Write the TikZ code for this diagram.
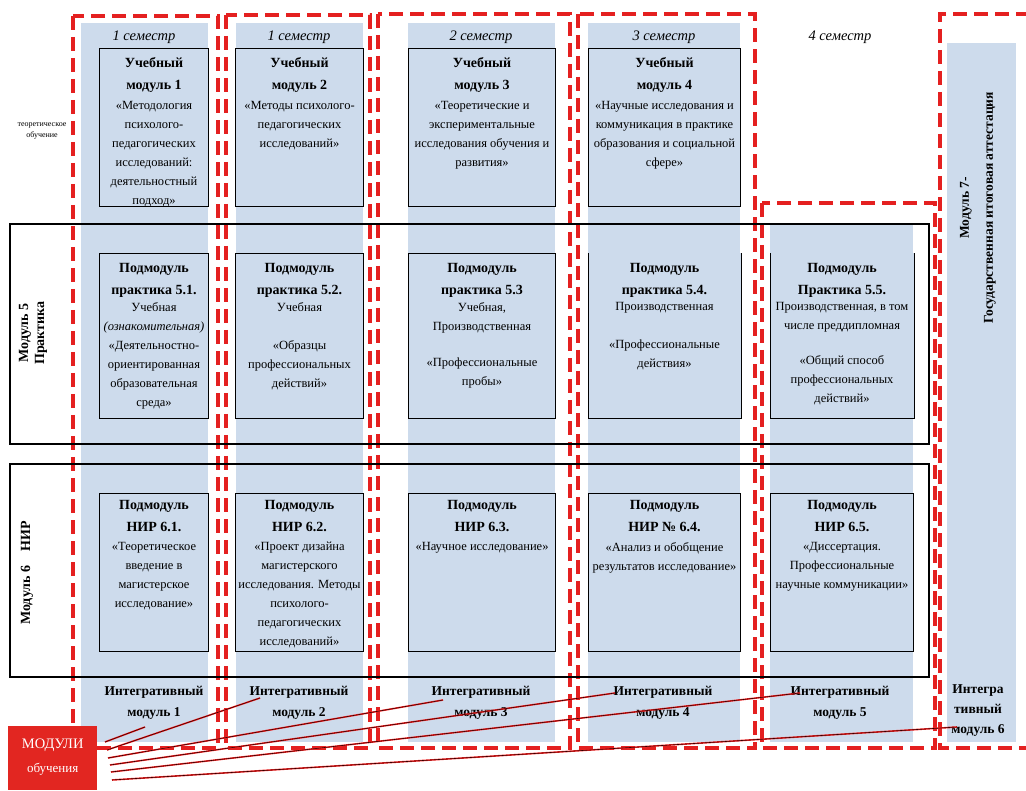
\documentclass[tikz,border=0pt]{standalone}
\usepackage{fontspec}
\setmainfont{Liberation Serif}
\usepackage{tikz}

\definecolor{bluebg}{RGB}{205,219,236}
\definecolor{dashred}{RGB}{228,32,32}
\definecolor{boxred}{RGB}{226,38,33}

\begin{document}
\begin{tikzpicture}[x=1pt, y=-1pt,
    semframe/.style={draw=dashred, line width=3.5pt, dash pattern=on 14pt off 7pt},
    band/.style={draw=black, line width=2.8pt},
    modbox/.style={draw=black, line width=1pt, fill=bluebg, anchor=north west, inner sep=0pt},
    head/.style={font=\fontsize{14}{22}\selectfont\bfseries, align=center, inner sep=0pt, anchor=north},
    body/.style={font=\fontsize{12.5}{19}\selectfont, align=center, inner sep=0pt, anchor=north},
    sem/.style={font=\fontsize{14.5}{16}\selectfont\itshape},
    integ/.style={font=\fontsize{13.5}{21}\selectfont\bfseries, align=center},
    vlabel/.style={font=\fontsize{14}{16}\selectfont\bfseries, align=center, rotate=90},
    fan/.style={draw=black!80!red, line width=0.6pt, preaction={draw=red!85, line width=1.6pt}}]

    \useasboundingbox (0,0) rectangle (1026,791);

    \fill[bluebg] (81,23) rectangle (208,742);
    \fill[bluebg] (236,23) rectangle (363,742);
    \fill[bluebg] (408,23) rectangle (555,742);
    \fill[bluebg] (588,23) rectangle (740,742);
    \fill[bluebg] (770,224) rectangle (913,742);
    \fill[bluebg] (947,43) rectangle (1016,742);

    \draw[semframe] (73,16) rectangle (218,748);
    \draw[semframe] (226,15) rectangle (370,748);
    \draw[semframe] (378,14) rectangle (570,748);
    \draw[semframe] (578,14) rectangle (755,748);
    \draw[semframe] (762,203) rectangle (935,748);
    \draw[semframe] (1030,14) -- (940,14) -- (940,748) -- (1030,748);

    \draw[band] (10,224) rectangle (929,444);
    \draw[band] (10,464) rectangle (929,677);

    \node[sem] (s1) at (144,37) {1 семестр};
    \node[sem] (s2) at (299,37) {1 семестр};
    \node[sem] (s3) at (481,37) {2 семестр};
    \node[sem] (s4) at (664,37) {3 семестр};
    \node[sem] (s5) at (840,37) {4 семестр};

    \node[font=\fontsize{8}{11}\selectfont, align=center] (theory) at (42,131) {теоретическое\\обучение};
    \node[vlabel] (prac) at (33,333) {Модуль 5\\Практика};
    \node[vlabel] (nir) at (27,573) {Модуль 6\quad НИР};

    \node[modbox, minimum width=109, minimum height=158] (u1) at (99,48) {};
    \node[head] (u1h) at ([yshift=-9]u1.north) {Учебный\\модуль 1};
    \node[body] (u1b) at ([yshift=-53]u1.north) {«Методология\\психолого-\\педагогических\\исследований:\\деятельностный\\подход»};

    \node[modbox, minimum width=128, minimum height=158] (u2) at (235,48) {};
    \node[head] (u2h) at ([yshift=-9]u2.north) {Учебный\\модуль 2};
    \node[body] (u2b) at ([yshift=-53]u2.north) {«Методы психолого-\\педагогических\\исследований»};

    \node[modbox, minimum width=147, minimum height=158] (u3) at (408,48) {};
    \node[head] (u3h) at ([yshift=-9]u3.north) {Учебный\\модуль 3};
    \node[body] (u3b) at ([yshift=-53]u3.north) {«Теоретические и\\экспериментальные\\исследования обучения и\\развития»};

    \node[modbox, minimum width=152, minimum height=158] (u4) at (588,48) {};
    \node[head] (u4h) at ([yshift=-9]u4.north) {Учебный\\модуль 4};
    \node[body] (u4b) at ([yshift=-53]u4.north) {«Научные исследования и\\коммуникация в практике\\образования и социальной\\сфере»};

    \node[modbox, minimum width=109, minimum height=165] (p1) at (99,253) {};
    \node[head] (p1h) at ([yshift=-10]p1.north) {Подмодуль\\практика 5.1.};
    \node[body] (p1b) at ([yshift=-49]p1.north) {Учебная\\\textit{(ознакомительная)}\\«Деятельностно-\\ориентированная\\образовательная\\среда»};

    \node[modbox, minimum width=128, minimum height=165] (p2) at (235,253) {};
    \node[head] (p2h) at ([yshift=-10]p2.north) {Подмодуль\\практика 5.2.};
    \node[body] (p2b) at ([yshift=-49]p2.north) {Учебная\\[19pt]«Образцы\\профессиональных\\действий»};

    \node[modbox, minimum width=147, minimum height=165] (p3) at (408,253) {};
    \node[head] (p3h) at ([yshift=-10]p3.north) {Подмодуль\\практика 5.3};
    \node[body] (p3b) at ([yshift=-49]p3.north) {Учебная,\\Производственная\\[17pt]«Профессиональные\\пробы»};

    \node[modbox, draw=none, minimum width=152, minimum height=165] (p4) at (588,253) {};
    \draw[line width=1pt] (p4.north west) -- (p4.south west) -- (p4.south east) -- (p4.north east);
    \node[head] (p4h) at ([yshift=-10]p4.north) {Подмодуль\\практика 5.4.};
    \node[body] (p4b) at ([yshift=-49]p4.north) {Производственная\\[19pt]«Профессиональные\\действия»};

    \node[modbox, draw=none, minimum width=143, minimum height=165] (p5) at (770,253) {};
    \draw[line width=1pt] (p5.north west) -- (p5.south west) -- (p5.south east) -- (p5.north east);
    \node[head] (p5h) at ([yshift=-10]p5.north) {Подмодуль\\Практика 5.5.};
    \node[body] (p5b) at ([yshift=-49]p5.north) {Производственная, в том\\числе преддипломная\\[16pt]«Общий способ\\профессиональных\\действий»};

    \node[modbox, minimum width=109, minimum height=158] (n1) at (99,493) {};
    \node[head] (n1h) at ([yshift=-7]n1.north) {Подмодуль\\НИР 6.1.};
    \node[body] (n1b) at ([yshift=-49]n1.north) {«Теоретическое\\введение в\\магистерское\\исследование»};

    \node[modbox, minimum width=128, minimum height=158] (n2) at (235,493) {};
    \node[head] (n2h) at ([yshift=-7]n2.north) {Подмодуль\\НИР 6.2.};
    \node[body] (n2b) at ([yshift=-49]n2.north) {«Проект дизайна\\магистерского\\исследования. Методы\\психолого-\\педагогических\\исследований»};

    \node[modbox, minimum width=147, minimum height=158] (n3) at (408,493) {};
    \node[head] (n3h) at ([yshift=-7]n3.north) {Подмодуль\\НИР 6.3.};
    \node[body] (n3b) at ([yshift=-49]n3.north) {«Научное исследование»};

    \node[modbox, minimum width=152, minimum height=158] (n4) at (588,493) {};
    \node[head] (n4h) at ([yshift=-7]n4.north) {Подмодуль\\НИР № 6.4.};
    \node[body] (n4b) at ([yshift=-49]n4.north) {«Анализ и обобщение\\результатов исследование»};

    \node[modbox, minimum width=143, minimum height=158] (n5) at (770,493) {};
    \node[head] (n5h) at ([yshift=-7]n5.north) {Подмодуль\\НИР 6.5.};
    \node[body] (n5b) at ([yshift=-49]n5.north) {«Диссертация.\\Профессиональные\\научные коммуникации»};

    \node[font=\fontsize{13.5}{24}\selectfont\bfseries, align=center, rotate=90] (gia) at (978,208) {Модуль 7-\\Государственная итоговая аттестация};

    \node[integ] (i1) at (154,703) {Интегративный\\модуль 1};
    \node[integ] (i2) at (299,703) {Интегративный\\модуль 2};
    \node[integ] (i3) at (481,703) {Интегративный\\модуль 3};
    \node[integ] (i4) at (663,703) {Интегративный\\модуль 4};
    \node[integ] (i5) at (840,703) {Интегративный\\модуль 5};
    \node[integ, font=\fontsize{13.5}{20}\selectfont\bfseries] (i6) at (978,711) {Интегра\\тивный\\модуль 6};

    \node[fill=boxred, minimum width=89, minimum height=64, anchor=north west, inner sep=0pt] (mods) at (8,726) {};
    \node[text=white, align=center, font=\fontsize{14.5}{24}\selectfont] (modt) at ([yshift=1]mods.center) {МОДУЛИ\\{\fontsize{13}{15}\selectfont обучения}};

    \coordinate (a1) at (105,742);
    \coordinate (a2) at (107,750);
    \coordinate (a3) at (108,758);
    \coordinate (a4) at (110,765);
    \coordinate (a5) at (111,772);
    \coordinate (a6) at (112,780);
    \coordinate (b1) at (145,727);
    \coordinate (b2) at (260,698);
    \coordinate (b3) at (443,700);
    \coordinate (b4) at (615,693);
    \coordinate (b5) at (800,693);
    \coordinate (b6) at (957,727);

    \draw[fan] (a1) -- (b1);
    \draw[fan] (a2) -- (b2);
    \draw[fan] (a3) -- (b3);
    \draw[fan] (a4) -- (b4);
    \draw[fan] (a5) -- (b5);
    \draw[fan] (a6) -- (b6);
\end{tikzpicture}
\end{document}
